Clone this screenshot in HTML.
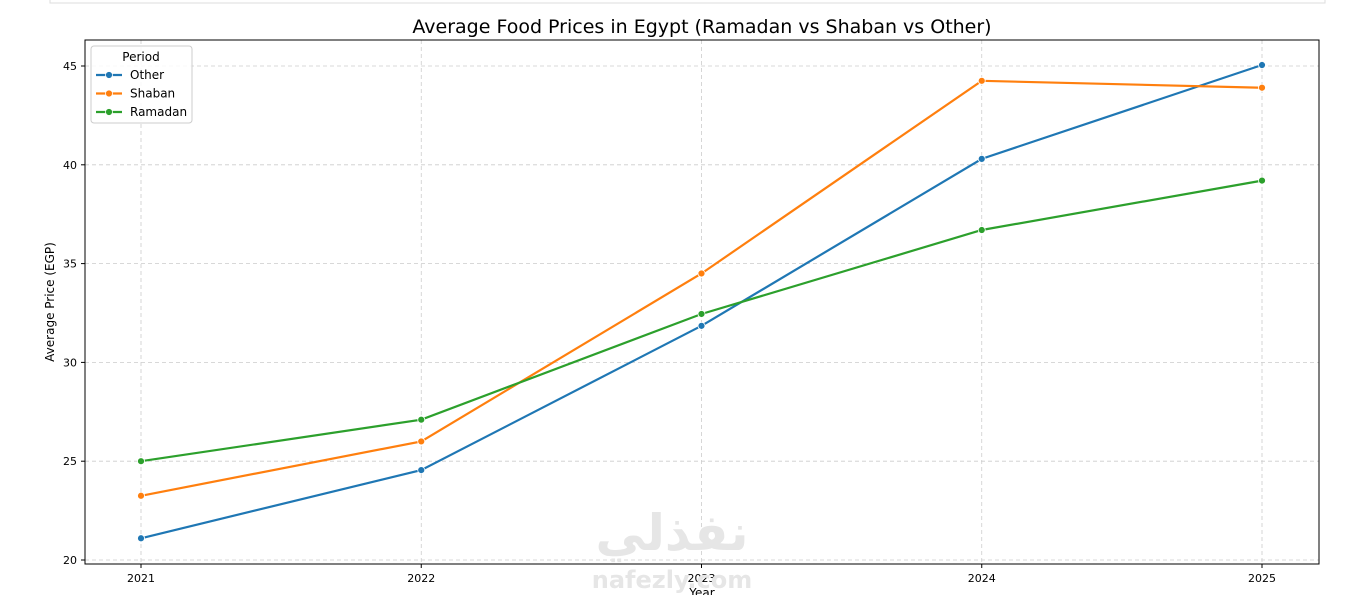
<!DOCTYPE html>
<html><head><meta charset="utf-8">
<style>
body{margin:0;background:#fff;width:1346px;height:595px;overflow:hidden;font-family:"Liberation Sans","DejaVu Sans",sans-serif;}
svg text{font-family:"DejaVu Sans","Liberation Sans",sans-serif;}
</style></head>
<body>
<svg id="c" width="1346" height="595">
<rect x="50" y="-5" width="1275" height="8" fill="none" stroke="#ddd"/>
<text x="702" y="33" text-anchor="middle" font-size="19" fill="#000">Average Food Prices in Egypt (Ramadan vs Shaban vs Other)</text>
<g id="grid"></g>
<text x="672" y="550" text-anchor="middle" font-size="50" font-weight="bold" fill="#e6e6e6" font-family="'Noto Sans CJK SC',sans-serif">نفذلي</text>
<text x="672" y="588" text-anchor="middle" font-size="24" font-weight="bold" fill="#e6e6e6">nafezly.com</text>
<g id="series"></g>
<rect x="85" y="40" width="1234" height="524" fill="none" stroke="#000" stroke-width="1"/>
<text x="702" y="597" text-anchor="middle" font-size="12">Year</text>
<text transform="translate(54,302) rotate(-90)" text-anchor="middle" font-size="12">Average Price (EGP)</text>
<g>
<rect x="91" y="46" width="101" height="77" rx="3" fill="#fff" fill-opacity="0.85" stroke="#ccc"/>
<text x="141" y="61" text-anchor="middle" font-size="12">Period</text>
<g id="legend"></g>
</g>
</svg>
<script>
const years=[2021,2022,2023,2024,2025];
const other=[21.1,24.55,31.85,40.3,45.05];
const shaban=[23.25,26.0,34.5,44.25,43.9];
const ramadan=[25.0,27.1,32.45,36.7,39.2];
const yTicks=[20,25,30,35,40,45];
const seriesNames=['Other','Shaban','Ramadan'];
const NS='http://www.w3.org/2000/svg';
const X=y=>141+(y-2021)*(1262-141)/4;
const Y=v=>560-(v-20)*(560-66)/25;
function mk(t,a,p){const e=document.createElementNS(NS,t);for(const k in a)e.setAttribute(k,a[k]);p.appendChild(e);return e;}
const g=document.getElementById('grid');
years.forEach(yr=>{
 const l=mk('line',{x1:X(yr),x2:X(yr),y1:40,y2:564,stroke:'#ccc','stroke-dasharray':'4,3','stroke-width':0.8},g);
 
 
 mk('line',{x1:X(yr),x2:X(yr),y1:564,y2:568,stroke:'#000'},g);
 const t=mk('text',{x:X(yr),y:582,'text-anchor':'middle','font-size':11},g);t.textContent=yr;
 
 
});
yTicks.forEach(v=>{
 const l=mk('line',{x1:85,x2:1319,y1:Y(v),y2:Y(v),stroke:'#ccc','stroke-dasharray':'4,3','stroke-width':0.8},g);
 
 
 mk('line',{x1:81,x2:85,y1:Y(v),y2:Y(v),stroke:'#000'},g);
 const t=mk('text',{x:77,y:Y(v)+4,'text-anchor':'end','font-size':11},g);t.textContent=v;
 
 
});
const data=[other,shaban,ramadan];
const colors=['#1f77b4','#ff7f0e','#2ca02c'];
const s=document.getElementById('series');
data.forEach((d,i)=>{
 const p=mk('polyline',{points:d.map((v,j)=>X(years[j])+','+Y(v)).join(' '),fill:'none',stroke:colors[i],'stroke-width':2.2},s);
 
 
 d.forEach((v,j)=>{
  const c=mk('circle',{cx:X(years[j]),cy:Y(v),r:3.5,fill:colors[i],stroke:'#fff','stroke-width':0.8},s);
  
  
 });
});
const lg=document.getElementById('legend');
seriesNames.forEach((n,i)=>{
 const y=75+i*18.5;
 mk('line',{x1:96,x2:122,y1:y,y2:y,stroke:colors[i],'stroke-width':2.2},lg);
 mk('circle',{cx:109,cy:y,r:3.5,fill:colors[i],stroke:'#fff','stroke-width':0.8},lg);
 const t=mk('text',{x:130,y:y+4,'font-size':12},lg);t.textContent=n;
 
 
});
</script>
</body></html>
